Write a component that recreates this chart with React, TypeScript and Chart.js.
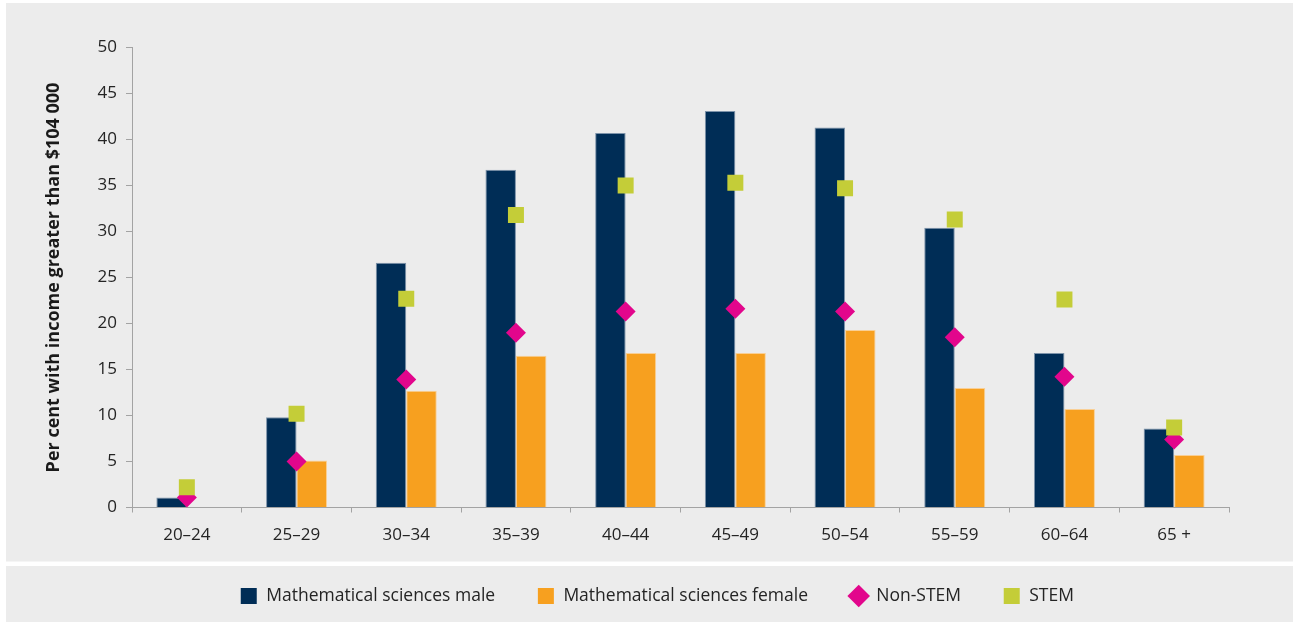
import React, { useEffect, useRef } from 'react';
import { Chart, registerables } from 'chart.js';

Chart.register(...registerables);

const categories = ['20–24', '25–29', '30–34', '35–39', '40–44', '45–49', '50–54', '55–59', '60–64', '65 +'];
const maleValues = [1.1, 9.8, 26.6, 36.7, 40.7, 43.1, 41.3, 30.4, 16.8, 8.6];
const femaleValues = [null, 5.1, 12.7, 16.5, 16.8, 16.8, 19.3, 13.0, 10.7, 5.7];
const nonStemValues = [1.1, 5.0, 13.9, 19.0, 21.3, 21.6, 21.3, 18.5, 14.2, 7.4];
const stemValues = [2.2, 10.2, 22.7, 31.8, 35.0, 35.3, 34.7, 31.3, 22.6, 8.7];
const seriesLabels = ['Mathematical sciences male', 'Mathematical sciences female', 'Non-STEM', 'STEM'];
const yAxisTitle = 'Per cent with income greater than $104 000';

const FONT = "'Open Sans', Lato, sans-serif";
const AXIS_GRAY = '#a3a3a3';
const TEXT = '#242424';

const panelPlugin = {
  id: 'panels',
  beforeDraw(chart: any) {
    const ctx = chart.ctx;
    ctx.save();
    ctx.fillStyle = '#ffffff';
    ctx.fillRect(0, 0, chart.width, chart.height);
    ctx.fillStyle = '#ececec';
    ctx.fillRect(6, 3, chart.width - 6, 558.5);
    ctx.fillRect(6, 566, chart.width - 6, chart.height - 566);
    ctx.restore();
  },
};

const legendShiftPlugin = {
  id: 'legendShift',
  afterLayout(chart: any) {
    const lg = chart.legend;
    if (lg) {
      lg.left += 198;
      lg.right += 198;
    }
  },
};

export default function App() {
  const canvasRef = useRef<HTMLCanvasElement | null>(null);

  useEffect(() => {
    document.body.style.margin = '0';
    const canvas = canvasRef.current;
    if (!canvas) return;
    const chart = new Chart(canvas, {
      type: 'bar',
      data: {
        labels: categories,
        datasets: [
          {
            type: 'bar',
            label: seriesLabels[0],
            data: maleValues,
            backgroundColor: '#002d56',
            borderColor: '#7d93aa',
            borderWidth: { top: 1, left: 1, right: 1, bottom: 0 },
            borderSkipped: 'start',
            pointStyle: 'rect',
            categoryPercentage: 0.556,
            barPercentage: 1,
            order: 2,
          } as any,
          {
            type: 'bar',
            label: seriesLabels[1],
            data: femaleValues,
            backgroundColor: '#f7a01f',
            borderColor: '#f9cf95',
            borderWidth: { top: 1, left: 1, right: 1, bottom: 0 },
            borderSkipped: 'start',
            pointStyle: 'rect',
            categoryPercentage: 0.556,
            barPercentage: 1,
            order: 2,
          } as any,
          {
            type: 'line',
            label: seriesLabels[2],
            data: nonStemValues,
            showLine: false,
            pointStyle: 'rectRot',
            pointRadius: 10,
            pointHoverRadius: 10,
            pointBorderWidth: 0,
            backgroundColor: '#e2068c',
            borderColor: '#e2068c',
            order: 1,
          } as any,
          {
            type: 'line',
            label: seriesLabels[3],
            data: stemValues,
            showLine: false,
            pointStyle: 'rect',
            pointRadius: 11.3,
            pointHoverRadius: 11.3,
            pointBorderWidth: 0,
            backgroundColor: '#c4cd38',
            borderColor: '#c4cd38',
            order: 0,
          } as any,
        ],
      },
      options: {
        animation: false,
        responsive: false,
        devicePixelRatio: 1,
        layout: { padding: { left: 0, top: 47.5, right: 64, bottom: 7.25 } },
        plugins: {
          tooltip: { enabled: false },
          legend: {
            position: 'bottom',
            align: 'start',
            labels: {
              usePointStyle: true,
              boxHeight: 16,
              padding: 42,
              color: TEXT,
              font: { family: FONT, size: 17.5 },
              sort: (a: any, b: any) => a.datasetIndex - b.datasetIndex,
              generateLabels: (c: any) => {
                const items = (Chart as any).defaults.plugins.legend.labels.generateLabels(c);
                items.forEach((it: any) => {
                  it.lineWidth = 0;
                  it.strokeStyle = it.fillStyle;
                });
                return items;
              },
            },
          },
        },
        scales: {
          x: {
            offset: true,
            grid: {
              offset: true,
              drawOnChartArea: false,
              drawTicks: true,
              tickLength: 5,
              color: AXIS_GRAY,
            },
            border: { display: true, color: AXIS_GRAY, width: 1 },
            ticks: {
              color: TEXT,
              font: { family: FONT, size: 17 },
              padding: 12,
              maxRotation: 0,
            },
            afterFit: (scale: any) => {
              scale.height = 37.75;
            },
          },
          y: {
            min: 0,
            max: 50,
            grid: {
              drawOnChartArea: false,
              drawTicks: true,
              tickLength: 6,
              color: AXIS_GRAY,
            },
            border: { display: true, color: AXIS_GRAY, width: 1 },
            ticks: {
              stepSize: 5,
              color: TEXT,
              font: { family: FONT, size: 17 },
              padding: 9,
            },
            title: {
              display: true,
              text: yAxisTitle,
              color: '#1a1a1a',
              font: { family: FONT, size: 18, weight: 'bold' },
              padding: { top: 43, bottom: 0 },
            },
            afterFit: (scale: any) => {
              scale.width = 132;
            },
          },
        },
      },
      plugins: [panelPlugin, legendShiftPlugin],
    });
    return () => chart.destroy();
  }, []);

  return (
    <div style={{ width: 1293, height: 622 }}>
      <canvas ref={canvasRef} width={1293} height={622} style={{ display: 'block' }} />
    </div>
  );
}
